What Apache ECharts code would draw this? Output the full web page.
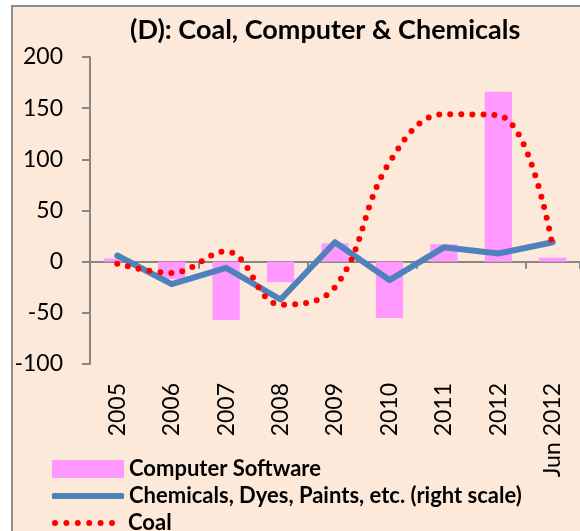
<!DOCTYPE html>
<html>
<head>
<meta charset="utf-8">
<script src="https://cdn.jsdelivr.net/npm/echarts@6/dist/echarts.min.js"></script>
<style>
  html, body { margin: 0; padding: 0; background: #ffffff; }
  #wrap { position: relative; width: 580px; height: 531px; overflow: hidden; background: #ffffff; }
  #panel { position: absolute; left: 11px; top: 5px; width: 700px; height: 700px;
           background: #fde9da; border: 2px solid #8c8c8c; }
  #chart { position: absolute; left: 0; top: 0; width: 580px; height: 531px; }
</style>
</head>
<body>
<div id="wrap">
  <div id="panel"></div>
  <div id="chart"></div>
</div>
<script>
const categories = ['2005', '2006', '2007', '2008', '2009', '2010', '2011', '2012', 'Jun 2012'];
const software = [3, -17, -57, -20, 18, -55, 17, 166, 4];
const chemicals = [6, -22, -6, -37, 19, -18, 14, 8, 19];
const coal = [-2, -11, 10, -42, -25, 97, 144, 143, 14];
const yMin = -100;
const yMax = 200;
const yStep = 50;

const FONT = 'Lato';
const LEGEND_TEXT = { fontFamily: FONT, fontSize: 22, fontWeight: 'bold', color: '#000' };

// six round dots, used as the legend mark of the dotted coal line
const dot = (cx) => 'M' + (cx - 3) + ',3a3,3 0 1,0 6,0a3,3 0 1,0 -6,0Z';
const DOTS_ICON = 'path://' + [3, 14.4, 25.8, 37.2, 48.6, 60].map(dot).join('');

const getOption = () => {
  return {
    backgroundColor: 'transparent',
    animation: false,
    textStyle: { fontFamily: FONT },
    title: {
      text: '(D): Coal, Computer & Chemicals',
      left: 125,
      top: 12,
      textStyle: { fontFamily: FONT, fontSize: 27, fontWeight: 'bold', color: '#000' }
    },
    legend: [
      {
        left: 47, top: 453, itemWidth: 72, itemHeight: 18,
        textStyle: LEGEND_TEXT,
        data: [{ name: 'Computer Software', icon: 'rect' }]
      },
      {
        left: 47, top: 480, itemWidth: 72, itemHeight: 6,
        textStyle: LEGEND_TEXT,
        data: [{ name: 'Chemicals, Dyes, Paints, etc. (right scale)', icon: 'roundRect' }]
      },
      {
        left: 47, top: 507, itemWidth: 63, itemHeight: 6,
        textStyle: Object.assign({ padding: [0, 0, 0, 8] }, LEGEND_TEXT),
        data: [{ name: 'Coal', icon: DOTS_ICON }]
      }
    ],
    grid: { left: 90, right: 0, top: 57, bottom: 167 },
    xAxis: [
      {
        type: 'category',
        data: categories,
        axisLine: { onZero: true, lineStyle: { color: '#868686', width: 2 } },
        axisTick: { show: true, length: 7, lineStyle: { color: '#868686', width: 2 } },
        axisLabel: { show: false }
      },
      {
        type: 'category',
        data: categories,
        position: 'bottom',
        axisLine: { show: false },
        axisTick: { show: false },
        axisLabel: { rotate: 90, margin: 19, fontFamily: FONT, fontSize: 23, color: '#000' }
      }
    ],
    yAxis: [
      {
        type: 'value',
        min: yMin,
        max: yMax,
        interval: yStep,
        splitLine: { show: false },
        axisLine: { show: true, lineStyle: { color: '#868686', width: 2 } },
        axisTick: { show: true, length: 8, lineStyle: { color: '#868686', width: 2 } },
        axisLabel: { margin: 27, fontFamily: FONT, fontSize: 23, color: '#000' }
      },
      {
        // right scale, not drawn in the cropped picture
        type: 'value',
        min: yMin,
        max: yMax,
        interval: yStep,
        show: false
      }
    ],
    series: [
      {
        name: 'Computer Software',
        type: 'bar',
        data: software,
        barWidth: '50%',
        itemStyle: { color: '#ff99ff' }
      },
      {
        name: 'Chemicals, Dyes, Paints, etc. (right scale)',
        type: 'line',
        yAxisIndex: 1,
        data: chemicals,
        symbol: 'none',
        lineStyle: { color: '#4f81bd', width: 6, cap: 'round', join: 'round' },
        itemStyle: { color: '#4f81bd' }
      },
      {
        name: 'Coal',
        type: 'line',
        data: coal,
        smooth: 0.4,
        symbol: 'none',
        lineStyle: { color: '#ff0000', width: 6, type: [0, 11], cap: 'round' },
        itemStyle: { color: '#ff0000' }
      }
    ]
  };
};

const initChart = () => {
  const chart = echarts.init(document.getElementById('chart'));
  chart.setOption(getOption());
};

window.addEventListener('load', () => {
  initChart();
});
</script>
</body>
</html>
